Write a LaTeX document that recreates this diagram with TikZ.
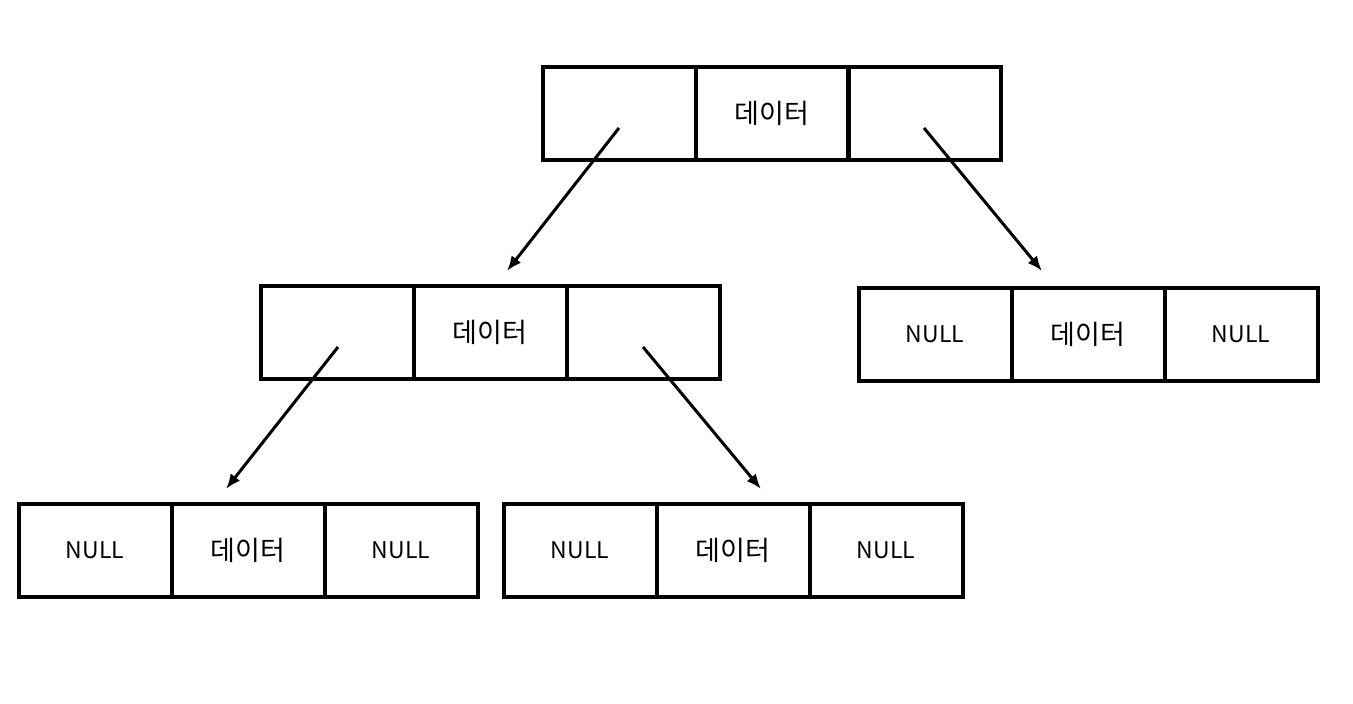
\documentclass[tikz,border=0pt]{standalone}
\usepackage{fontspec}
\setmainfont{Noto Sans CJK KR}
\usetikzlibrary{arrows.meta}
\tikzset{
  cell/.style={draw, line width=4pt, minimum width=153pt, minimum height=93pt,
    inner sep=0pt, font=\fontsize{23}{27}\selectfont},
  data/.style={cell, font=\fontsize{27}{31}\selectfont},
  link/.style={line width=3pt, -{Latex[length=15pt,width=12pt]}}
}
\begin{document}
\begin{tikzpicture}[x=1pt,y=-1pt]
      \useasboundingbox (0,0) rectangle (1353,704);
      \draw
        (619,113.5) node[cell] (rl){}
        (772,113.5) node[data] (rd){데이터}
        (924,113.5) node[cell] (rr){}
        (337,332) node[cell] (al){}
        (490,332) node[data] (ad){데이터}
        (643,332) node[cell] (ar){}
        (935,334) node[cell] (bl){NULL}
        (1088,334) node[data] (bd){데이터}
        (1241,334) node[cell] (br){NULL}
        (95,550.5) node[cell] (cl){NULL}
        (248,550.5) node[data] (cd){데이터}
        (401,550.5) node[cell] (cr){NULL}
        (580,550.5) node[cell] (dl){NULL}
        (733,550.5) node[data] (dd){데이터}
        (886,550.5) node[cell] (dr){NULL};
      \coordinate (rl0) at (619,128);
      \coordinate (rr0) at (924,128);
      \coordinate (al0) at (338,347);
      \coordinate (ar0) at (643,347);
      \coordinate (a1) at (507,271);
      \coordinate (b1) at (1042,271);
      \coordinate (c1) at (226,489);
      \coordinate (d1) at (761,489);
      \begin{scope}[link]
        \draw (rl0) to (a1);
        \draw (rr0) to (b1);
        \draw (al0) to (c1);
        \draw (ar0) to (d1);
      \end{scope}
    \end{tikzpicture}
\end{document}
